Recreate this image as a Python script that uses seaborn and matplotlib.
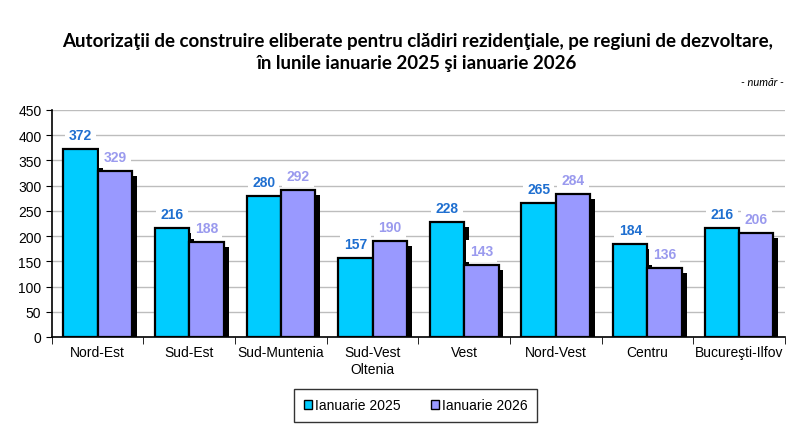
import numpy as np
import pandas as pd
import matplotlib
matplotlib.use("Agg")
import matplotlib.pyplot as plt
import matplotlib.patheffects as pe
import seaborn as sns

regions = ["Nord-Est", "Sud-Est", "Sud-Muntenia", "Sud-Vest\nOltenia", "Vest",
           "Nord-Vest", "Centru", "Bucureşti-Ilfov"]
ian_2025 = [372, 216, 280, 157, 228, 265, 184, 216]
ian_2026 = [329, 188, 292, 190, 143, 284, 136, 206]
series = ["Ianuarie 2025", "Ianuarie 2026"]
yticks = list(range(0, 451, 50))

colors = ["#00CCFF", "#9999FF"]
label_colors = ["#1F6FD0", "#9A9AEE"]

sns.set_style("white")
plt.rcParams["font.family"] = ["Liberation Sans", "DejaVu Sans"]
plt.rcParams["text.color"] = "black"
plt.rcParams["xtick.color"] = "black"
plt.rcParams["ytick.color"] = "black"
plt.rcParams["axes.labelcolor"] = "black"

df = pd.DataFrame({
    "Regiune": regions * 2,
    "Valoare": ian_2025 + ian_2026,
    "Serie": [series[0]] * len(regions) + [series[1]] * len(regions),
})

fig = plt.figure(figsize=(8.1, 4.35), dpi=100)
ax = fig.add_axes([0.064, 0.223, 0.905, 0.522])

sns.barplot(data=df, x="Regiune", y="Valoare", hue="Serie", palette=colors,
            width=0.75, edgecolor="black", linewidth=1.6, saturation=1,
            legend=False, ax=ax, zorder=3)

for p in ax.patches:
    p.set_path_effects([pe.SimplePatchShadow(offset=(3.5, -3.5), shadow_rgbFace="black", alpha=1),
                        pe.Normal()])

# value labels
for i, cont in enumerate(ax.containers):
    for bar, v in zip(cont, [ian_2025, ian_2026][i]):
        ax.text(bar.get_x() + bar.get_width() / 2, v + 28, str(v), ha="center", va="center",
                fontsize=10, fontweight="bold", color=label_colors[i], zorder=4,
                bbox=dict(facecolor="white", edgecolor="none", pad=3))

ax.set_ylim(0, 450)
ax.set_yticks(yticks)
ax.set_xlim(-0.5, len(regions) - 0.5)
ax.yaxis.grid(True, color="#BDBDBD", linewidth=1)
ax.set_axisbelow(True)
ax.set_xlabel("")
ax.set_ylabel("")
ax.tick_params(axis="y", labelsize=10, length=4, direction="out", left=True, color="black",
               labelcolor="black")
ax.set_xticks(np.arange(len(regions)))
ax.set_xticklabels(regions, fontsize=10)
ax.tick_params(axis="x", length=0, pad=6, labelcolor="black")
ax.set_xticks(np.arange(-0.5, len(regions), 1), minor=True)
ax.tick_params(axis="x", which="minor", length=5, direction="out", bottom=True, color="black")
for s in ["top", "right"]:
    ax.spines[s].set_visible(False)
ax.spines["left"].set_color("black")
ax.spines["bottom"].set_color("black")
ax.spines["left"].set_linewidth(1.2)
ax.spines["bottom"].set_linewidth(1.2)

fig.text(0.515, 0.905, "Autorizaţii de construire eliberate pentru clădiri rezidenţiale, pe regiuni de dezvoltare,",
         ha="center", va="center", fontsize=13.5, fontweight="bold", color="black",
         family=["Lato", "DejaVu Sans"])
fig.text(0.515, 0.855, "în lunile ianuarie 2025 şi ianuarie 2026",
         ha="center", va="center", fontsize=13.5, fontweight="bold", color="black",
         family=["Lato", "DejaVu Sans"])
fig.text(0.968, 0.81, "- număr -", ha="right", va="center", fontsize=8, style="italic",
         color="black", family=["Lato", "DejaVu Sans"])

handles = [plt.Rectangle((0, 0), 1, 1, facecolor=c, edgecolor="black", linewidth=1) for c in colors]
leg = fig.legend(handles, series, loc="center", bbox_to_anchor=(0.513, 0.066), ncol=2,
                 frameon=True, fancybox=False, edgecolor="black", fontsize=10,
                 handlelength=0.6, handleheight=0.6, handletextpad=0.2, columnspacing=2.2,
                 borderpad=0.7, borderaxespad=0)
leg.get_frame().set_linewidth(1)
leg.get_frame().set_boxstyle("square", pad=0.0)
for t in leg.get_texts():
    t.set_color("black")

fig.savefig("out.png", dpi=100)
